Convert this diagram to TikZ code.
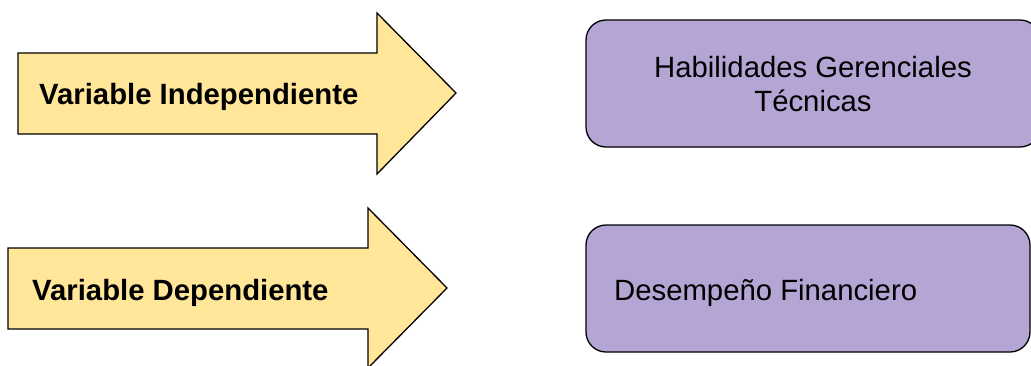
\documentclass[tikz,border=0pt]{standalone}
\usepackage{fontspec}
\setmainfont{Liberation Sans}
\definecolor{arrowfill}{HTML}{FFE699}
\definecolor{boxfill}{HTML}{B4A5D5}
\tikzset{
  bigarrow/.style={draw=black, line width=1.3pt, fill=arrowfill, line join=miter},
  varbox/.style={draw=black, line width=1.3pt, fill=boxfill, rounded corners=20pt},
  arrowtext/.style={font=\fontsize{29.3}{34}\selectfont\bfseries, anchor=base west, inner sep=0pt},
  boxtext/.style={font=\fontsize{29.3}{34}\selectfont, inner sep=0pt, align=center}
}
\begin{document}
\begin{tikzpicture}[x=1pt,y=-1pt]
\useasboundingbox (0,0) rectangle (1031,365);
% arrow 1
\draw[bigarrow] (18,53) -- (377,53) -- (377,13) -- (456,93) -- (377,174) -- (377,134) -- (18,134) -- cycle;
\node[arrowtext] (indep) at (39,104) {Variable Independiente};
% arrow 2
\draw[bigarrow] (8,248) -- (368,248) -- (368,208) -- (447,288) -- (368,368) -- (368,329) -- (8,329) -- cycle;
\node[arrowtext] (dep) at (32,300) {Variable Dependiente};
% boxes
\draw[varbox] (586,20) rectangle (1040,147);
\node[boxtext, anchor=base] (hab) at (813,77) {Habilidades Gerenciales};
\node[boxtext, anchor=base] (tec) at (813,111) {Técnicas};
\draw[varbox] (586,225) rectangle (1030,352);
\node[boxtext, anchor=base west] (des) at (614,300) {Desempeño Financiero};
\end{tikzpicture}
\end{document}
